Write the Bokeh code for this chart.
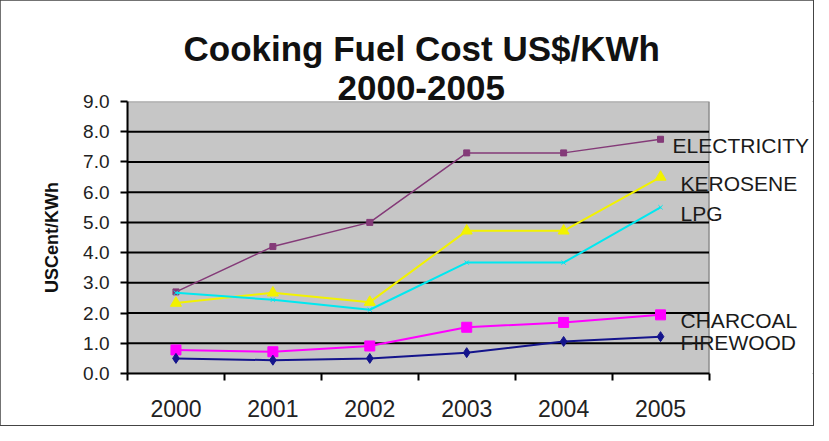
from bokeh.plotting import figure
from bokeh.models import FixedTicker, Label, Range1d, Title
from bokeh.embed import file_html
from bokeh.resources import INLINE

years = ["2000", "2001", "2002", "2003", "2004", "2005"]
electricity = [2.7, 4.2, 5.0, 7.3, 7.3, 7.75]
kerosene = [2.33, 2.67, 2.36, 4.72, 4.72, 6.5]
lpg = [2.67, 2.44, 2.11, 3.67, 3.67, 5.5]
charcoal = [0.78, 0.72, 0.91, 1.53, 1.69, 1.94]
firewood = [0.5, 0.44, 0.5, 0.69, 1.06, 1.22]
series_names = ["ELECTRICITY", "KEROSENE", "LPG", "CHARCOAL", "FIREWOOD"]
y_ticks = [0, 1, 2, 3, 4, 5, 6, 7, 8, 9]
title_line1 = "Cooking Fuel Cost US$/KWh"
title_line2 = "2000-2005"

n = len(years)
xs = [i + 0.5 for i in range(n)]
ymax = y_ticks[-1]

# layout: plot area spans 581.5px for n categories, frame extends to the right edge for labels
W, H = 813, 425
left_b, top_b, bottom_b = 127, 101, 52
area_px = 581.5
frame_w = W - left_b
x_end = n * frame_w / area_px

p = figure(width=W, height=H, output_backend="svg", toolbar_location=None,
           x_range=Range1d(0, x_end), y_range=Range1d(0, ymax),
           min_border_left=left_b, min_border_right=0, min_border_top=top_b, min_border_bottom=bottom_b)
p.background_fill_color = "white"
p.border_fill_color = "white"
p.outline_line_color = None
p.styles = {"outline": "2px solid #444", "outline-offset": "-1px"}

# titles (the added Title sits closest to the frame)
p.title.text = title_line1
p.title.align = "left"
p.title.offset = 56
p.title.standoff = 8
p.title.text_font = "Liberation Sans"
p.title.text_font_style = "bold"
p.title.text_font_size = "35px"
p.title.text_color = "#111111"
p.add_layout(Title(text=title_line2, align="left", offset=210, standoff=4,
                   text_font="Liberation Sans", text_font_style="bold",
                   text_font_size="35px", text_color="#111111"), "above")

# plot area
p.quad(left=[0], right=[n], bottom=[0], top=[ymax], fill_color="#c6c6c6",
       line_color="#8c8c8c", line_width=1.5)
p.segment(x0=[0] * (len(y_ticks) - 2), x1=[n] * (len(y_ticks) - 2),
          y0=y_ticks[1:-1], y1=y_ticks[1:-1], line_color="black", line_width=2)

# axes
p.xaxis.bounds = (0, n)
p.xaxis.ticker = FixedTicker(ticks=xs, minor_ticks=list(range(n + 1)))
p.xaxis.major_label_overrides = {x: y for x, y in zip(xs, years)}
p.xaxis.major_tick_out = 0
p.xaxis.major_tick_in = 0
p.xaxis.minor_tick_out = 7
p.xaxis.minor_tick_in = 0
p.xaxis.minor_tick_line_color = "black"
p.xaxis.minor_tick_line_width = 2
p.xaxis.axis_line_color = "black"
p.xaxis.axis_line_width = 2
p.xaxis.major_label_standoff = 19
p.xaxis.major_label_text_font = "Liberation Sans"
p.xaxis.major_label_text_font_size = "23px"
p.xaxis.major_label_text_color = "#222222"

p.yaxis.bounds = (0, ymax)
p.yaxis.ticker = FixedTicker(ticks=y_ticks)
p.yaxis.major_label_overrides = {t: f"{t:.1f}" for t in y_ticks}
p.yaxis.major_tick_out = 7
p.yaxis.major_tick_in = 0
p.yaxis.minor_tick_line_color = None
p.yaxis.major_tick_line_color = "black"
p.yaxis.major_tick_line_width = 2
p.yaxis.axis_line_color = "black"
p.yaxis.axis_line_width = 2
p.yaxis.major_label_standoff = 11
p.yaxis.major_label_text_font = "Liberation Sans"
p.yaxis.major_label_text_font_size = "19px"
p.yaxis.major_label_text_color = "#222222"
p.yaxis.axis_label = "USCent/KWh"
p.yaxis.axis_label_text_font = "Liberation Sans"
p.yaxis.axis_label_text_font_style = "bold"
p.yaxis.axis_label_text_font_size = "18px"
p.yaxis.axis_label_text_color = "#111111"
p.yaxis.axis_label_standoff = 18

p.xgrid.grid_line_color = None
p.ygrid.grid_line_color = None

colors = ["#843a78", "#f2f200", "#00e8f0", "#ff00ff", "#14148c"]
widths = [1.5, 2, 2, 2, 2]
data = [electricity, kerosene, lpg, charcoal, firewood]
markers = ["square", "triangle", "x", "square", "diamond"]
sizes = [6, 11, 6, 10, 10]
for vals, col, w, mk, sz in zip(data, colors, widths, markers, sizes):
    p.line(xs, vals, line_color=col, line_width=w)
    p.scatter(xs, vals, marker=mk, size=sz, fill_color=col, line_color=col)

offsets = [12, 20, 20, 20, 20]
for name, vals, off in zip(series_names, data, offsets):
    p.add_layout(Label(x=xs[-1], y=vals[-1], x_offset=off, y_offset=-6, text=name,
                       text_baseline="middle", text_font="Liberation Sans",
                       text_font_size="21px", text_color="#1a1a1a"))

open("out.html", "w").write(file_html(p, INLINE))
